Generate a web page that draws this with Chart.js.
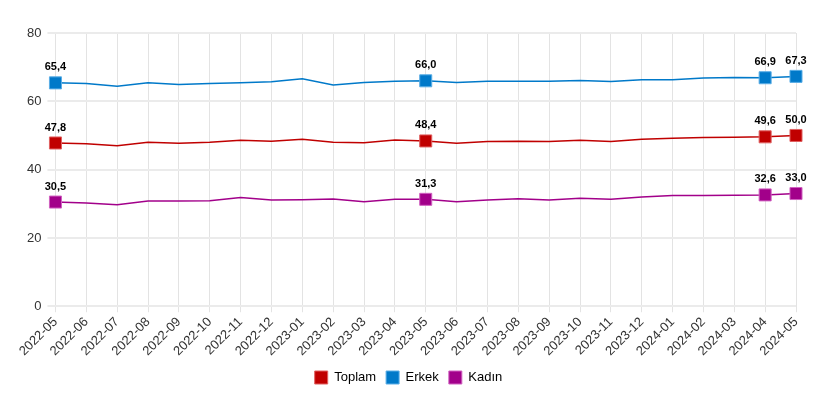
<!DOCTYPE html>
<html>
<head>
<meta charset="utf-8">
<script src="https://cdn.jsdelivr.net/npm/chart.js@4"></script>
<style>
  html, body { margin: 0; padding: 0; background: #fff; }
  #wrap { width: 832px; height: 398px; }
</style>
</head>
<body>
<div id="wrap"><canvas id="chart"></canvas></div>
<script>
const months = [
  "2022-05", "2022-06", "2022-07", "2022-08", "2022-09", "2022-10", "2022-11",
  "2022-12", "2023-01", "2023-02", "2023-03", "2023-04", "2023-05", "2023-06",
  "2023-07", "2023-08", "2023-09", "2023-10", "2023-11", "2023-12", "2024-01",
  "2024-02", "2024-03", "2024-04", "2024-05"
];

const toplam = [47.8, 47.6, 47.0, 48.0, 47.7, 48.0, 48.6, 48.3, 48.9, 48.0, 47.9, 48.7, 48.4,
  47.7, 48.2, 48.3, 48.2, 48.6, 48.2, 48.9, 49.2, 49.4, 49.5, 49.6, 50.0];
const erkek = [65.4, 65.2, 64.4, 65.4, 64.9, 65.2, 65.4, 65.7, 66.6, 64.8, 65.5, 65.9, 66.0,
  65.5, 65.9, 65.9, 65.9, 66.1, 65.8, 66.3, 66.3, 66.8, 67.0, 66.9, 67.3];
const kadin = [30.5, 30.2, 29.7, 30.8, 30.8, 30.9, 31.8, 31.1, 31.2, 31.4, 30.6, 31.3, 31.3,
  30.6, 31.1, 31.5, 31.1, 31.6, 31.3, 32.0, 32.4, 32.4, 32.5, 32.6, 33.0];

// months that get a marker and a value label
const marked = ["2022-05", "2023-05", "2024-04", "2024-05"];

const radii = months.map(m => (marked.includes(m) ? 8.5 : 0));
const font = "'Liberation Sans', Arial, sans-serif";

const mkSet = (label, data, color, border) => ({
  label: label,
  data: data,
  borderColor: color,
  backgroundColor: color,
  borderWidth: 1.5,
  pointStyle: "rect",
  pointRadius: radii,
  pointHoverRadius: radii,
  pointBackgroundColor: color,
  pointBorderColor: border,
  pointBorderWidth: 1,
  tension: 0
});

// draws "65,4" style labels above the marked points
const valueLabels = {
  id: "valueLabels",
  afterDatasetsDraw(chart) {
    const ctx = chart.ctx;
    ctx.save();
    ctx.font = "bold 11px " + font;
    ctx.fillStyle = "#000";
    ctx.textAlign = "center";
    ctx.textBaseline = "bottom";
    chart.data.datasets.forEach((ds, i) => {
      const meta = chart.getDatasetMeta(i);
      meta.data.forEach((pt, j) => {
        if (!marked.includes(months[j])) return;
        const txt = ds.data[j].toFixed(1).replace(".", ",");
        ctx.fillText(txt, pt.x, pt.y - 10);
      });
    });
    ctx.restore();
  }
};

new Chart(document.getElementById("chart"), {
  type: "line",
  data: {
    labels: months,
    datasets: [
      mkSet("Toplam", toplam, "#c00000", "#e06060"),
      mkSet("Erkek", erkek, "#0079c9", "#5aaee6"),
      mkSet("Kadın", kadin, "#a2008a", "#d060c0")
    ]
  },
  plugins: [valueLabels],
  options: {
    responsive: true,
    maintainAspectRatio: false,
    animation: false,
    layout: { padding: { top: 33, left: 21, right: 36, bottom: 4 } },
    plugins: {
      tooltip: { enabled: false },
      legend: {
        position: "bottom",
        labels: {
          boxWidth: 13,
          boxHeight: 13,
          padding: 10,
          color: "#222",
          font: { family: font, size: 13 },
          generateLabels(chart) {
            return chart.data.datasets.map((ds, i) => ({
              text: ds.label,
              fillStyle: ds.backgroundColor,
              strokeStyle: ds.pointBorderColor,
              lineWidth: 1,
              datasetIndex: i,
              hidden: false
            }));
          }
        }
      }
    },
    scales: {
      x: {
        grid: { color: "#e3e3e3", drawTicks: true, tickLength: 6 },
        border: { display: false },
        ticks: {
          color: "#333",
          maxRotation: 45,
          minRotation: 45,
          autoSkip: false,
          padding: 2,
          font: { family: font, size: 13 }
        }
      },
      y: {
        min: 0,
        max: 80,
        grid: { color: "#ebebeb", lineWidth: 2, drawTicks: true, tickLength: 8 },
        border: { display: false },
        ticks: {
          stepSize: 20,
          padding: 6,
          color: "#333",
          font: { family: font, size: 13 }
        }
      }
    }
  }
});
</script>
</body>
</html>
